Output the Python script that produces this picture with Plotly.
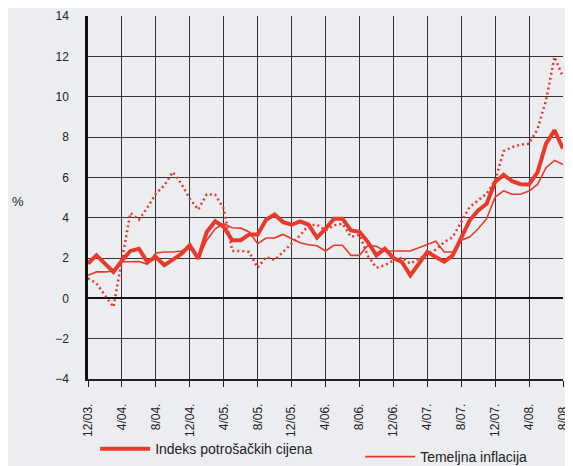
import plotly.graph_objects as go

months = list(range(57))  # 0 = 12/03 ... 56 = 8/08
tick_idx = list(range(0, 57, 4))
tick_labels = ["12/03.", "4/04.", "8/04.", "12/04.", "4/05.", "8/05.", "12/05.", "4/06.",
               "8/06.", "12/06.", "4/07.", "8/07.", "12/07.", "4/08.", "8/08."]

cpi = [1.72, 2.13, 1.72, 1.31, 1.88, 2.35, 2.46, 1.80, 2.05, 1.64, 1.92, 2.20, 2.63, 1.97,
       3.29, 3.82, 3.54, 2.88, 2.88, 3.17, 3.17, 3.90, 4.16, 3.78, 3.65, 3.82, 3.65, 3.01,
       3.45, 3.95, 3.95, 3.37, 3.30, 2.79, 2.13, 2.46, 2.00, 1.80, 1.14, 1.72, 2.30, 2.05,
       1.82, 2.13, 2.96, 3.87, 4.36, 4.69, 5.77, 6.12, 5.81, 5.66, 5.65, 6.25, 7.67, 8.33, 7.42]

core = [1.14, 1.31, 1.31, 1.36, 1.80, 1.83, 1.83, 1.69, 2.25, 2.30, 2.30, 2.35, 2.50, 2.00,
        2.88, 3.45, 3.70, 3.50, 3.48, 3.29, 2.71, 2.99, 3.00, 3.17, 2.96, 2.76, 2.66, 2.61,
        2.35, 2.63, 2.63, 2.13, 2.13, 2.63, 2.58, 2.35, 2.35, 2.35, 2.35, 2.51, 2.68, 2.83,
        2.30, 2.30, 2.88, 3.04, 3.45, 3.95, 5.02, 5.33, 5.16, 5.16, 5.32, 5.65, 6.48, 6.84, 6.64]

third = [1.00, 0.74, 0.15, -0.43, 1.90, 4.23, 3.90, 4.50, 5.19, 5.60, 6.26, 5.68, 4.94, 4.40,
         5.16, 5.14, 4.45, 2.35, 2.35, 2.30, 1.52, 2.05, 1.90, 2.30, 2.68, 3.12, 3.62, 3.65,
         3.37, 3.62, 3.70, 3.05, 3.15, 2.10, 1.52, 1.64, 1.88, 2.02, 1.72, 1.97, 2.21, 2.41,
         2.79, 3.04, 3.78, 4.53, 4.86, 5.19, 5.85, 7.30, 7.50, 7.62, 7.67, 8.40, 9.82, 11.97, 10.97]

y_ticks = [-4, -2, 0, 2, 4, 6, 8, 10, 12, 14]
y_labels = ["\u22124", "\u22122", "0", "2", "4", "6", "8", "10", "12", "14"]

red = "#E8392B"
bg = "#ECEDF0"

fig = go.Figure()
fig.add_trace(go.Scatter(x=months, y=third, mode="lines", showlegend=False,
                         line=dict(color=red, width=2.5, dash="2px,3px")))
fig.add_trace(go.Scatter(x=months, y=core, mode="lines", name="Temeljna inflacija",
                         legend="legend2", line=dict(color=red, width=1.6)))
fig.add_trace(go.Scatter(x=months, y=cpi, mode="lines", name="Indeks potrošačkih cijena",
                         legend="legend", line=dict(color=red, width=4)))

# the page body has an 8px margin, so the figure is made 8px smaller on each axis
fig.update_layout(
    width=565, height=458,
    paper_bgcolor=bg, plot_bgcolor=bg,
    margin=dict(l=80, r=10, t=8, b=87, autoexpand=False),
    font=dict(family="Liberation Sans, Arial, sans-serif", color="#222", size=12),
    legend=dict(orientation="h", x=0.015, xanchor="left", y=-0.193, yanchor="middle",
                font=dict(size=14), bgcolor="rgba(0,0,0,0)", itemwidth=50),
    legend2=dict(orientation="h", x=0.573, xanchor="left", y=-0.215, yanchor="middle",
                 font=dict(size=14), bgcolor="rgba(0,0,0,0)", itemwidth=50),
    annotations=[dict(text="%", x=-0.165, y=0.49, xref="paper", yref="paper",
                      showarrow=False, font=dict(size=13))],
)

fig.update_xaxes(range=[0, 56], tickvals=tick_idx, ticktext=tick_labels, tickangle=-90,
                 showgrid=True, gridcolor="#333333", gridwidth=1.2,
                 showline=True, linecolor="#222", linewidth=1.5,
                 ticks="outside", ticklen=6, tickcolor="#222", automargin=False,
                 ticklabelstandoff=12, tickfont=dict(size=12), zeroline=False)
fig.update_yaxes(range=[-4, 14], tickvals=y_ticks, ticktext=y_labels,
                 showgrid=True, gridcolor="#333333", gridwidth=1.2,
                 zeroline=True, zerolinecolor="#111", zerolinewidth=2,
                 showline=True, linecolor="#111", linewidth=2.5, automargin=False,
                 ticks="", ticklabelstandoff=14, tickfont=dict(size=12))

fig.write_html("out.html")
